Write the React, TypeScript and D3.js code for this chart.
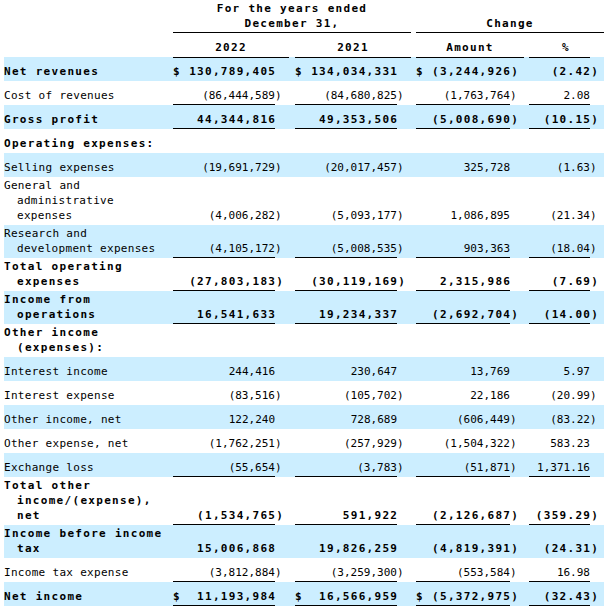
import React from 'react';
import * as d3 from 'd3';

// ---------- data ----------
const rowLabels: string[][] = [
  ['Net revenues'],
  ['Cost of revenues'],
  ['Gross profit'],
  ['Operating expenses:'],
  ['Selling expenses'],
  ['General and', 'administrative', 'expenses'],
  ['Research and', 'development expenses'],
  ['Total operating', 'expenses'],
  ['Income from', 'operations'],
  ['Other income', '(expenses):'],
  ['Interest income'],
  ['Interest expense'],
  ['Other income, net'],
  ['Other expense, net'],
  ['Exchange loss'],
  ['Total other', 'income/(expense),', 'net'],
  ['Income before income', 'tax'],
  ['Income tax expense'],
  ['Net income'],
];
const values2022: (number | null)[] = [130789405, -86444589, 44344816, null, -19691729, -4006282, -4105172, -27803183, 16541633, null, 244416, -83516, 122240, -1762251, -55654, -1534765, 15006868, -3812884, 11193984];
const values2021: (number | null)[] = [134034331, -84680825, 49353506, null, -20017457, -5093177, -5008535, -30119169, 19234337, null, 230647, -105702, 728689, -257929, -3783, 591922, 19826259, -3259300, 16566959];
const changeAmount: (number | null)[] = [-3244926, -1763764, -5008690, null, 325728, 1086895, 903363, 2315986, -2692704, null, 13769, 22186, -606449, -1504322, -51871, -2126687, -4819391, -553584, -5372975];
const changePct: (number | null)[] = [-2.42, 2.08, -10.15, null, -1.63, -21.34, -18.04, -7.69, -14.0, null, 5.97, -20.99, -83.22, 583.23, 1371.16, -359.29, -24.31, 16.98, -32.43];
const boldRows = [0, 2, 3, 7, 8, 9, 15, 16, 18];
const underlineRows = [1, 2, 6, 7, 8, 14, 15, 17, 18];
const dollarRows = [0, 18];
const headerTop = ['For the  years ended', 'December  31,'];
const headerChange = 'Change';
const columnHeads = ['2022', '2021', 'Amount', '%'];

// ---------- layout ----------
const W = 608;
const FONT = '"DejaVu Sans Mono", monospace';
const FS = 11;
const CW = FS * 0.602;
const BOLD_LS = 1.3;
const LABEL_LS = 0.3;
const BAND = '#CCEEFF';
const HEADER_H = 57;

const colLeft = [173, 295, 416, 529];
const colRight = [275, 397, 510, 590];
const headLineRight = [289, 411, 524, 590];
const headCenter = [231, 353, 470, 566];

const rowHeights = rowLabels.map((l) => (l.length === 1 ? 24 : 3 + 15 * l.length));
const rowTops = [HEADER_H, ...d3.cumsum(rowHeights).map((s) => HEADER_H + s)];

const fmtInt = d3.format(',');
const fmtPct = d3.format(',.2f');

export default function App() {
  const columns = [values2022, values2021, changeAmount, changePct];

  const bandRows = rowLabels.map((_, i) => i).filter((i) => i % 2 === 0);

  const boldStyle = (b: boolean) => ({
    fontWeight: b ? 700 : 400,
    letterSpacing: b ? BOLD_LS : 0,
  });

  return (
    <svg
      width={W}
      height={W}
      style={{ position: 'absolute', left: 0, top: 0, background: '#fff' }}
      fontFamily={FONT}
      fontSize={FS}
    >
      {/* bands */}
      {bandRows.map((i) => (
        <rect key={'b' + i} x={4} y={rowTops[i]} width={600} height={rowHeights[i]} fill={BAND} />
      ))}

      {/* header */}
      <g style={{ whiteSpace: 'pre' }} fill="#000" fontWeight={700} letterSpacing={BOLD_LS}>
        {headerTop.map((t, k) => (
          <text key={'ht' + k} x={292} y={12 + k * 14.5} textAnchor="middle">
            {t}
          </text>
        ))}
        <text x={510} y={26.5} textAnchor="middle">
          {headerChange}
        </text>
        {columnHeads.map((t, k) => (
          <text key={'ch' + k} x={headCenter[k]} y={51} textAnchor="middle">
            {t}
          </text>
        ))}
      </g>
      <line x1={173} x2={411} y1={32.5} y2={32.5} stroke="#000" />
      <line x1={416} x2={604} y1={32.5} y2={32.5} stroke="#000" />
      {colLeft.map((x, k) => (
        <line key={'hl' + k} x1={x} x2={headLineRight[k]} y1={57.5} y2={57.5} stroke="#000" />
      ))}

      {/* rows */}
      {rowLabels.map((lines, i) => {
        const bold = boldRows.includes(i);
        const bottom = rowTops[i] + rowHeights[i];
        const baseLast = bottom - 6;
        const n = lines.length;
        return (
          <g key={'r' + i} fill="#000">
            {lines.map((t, k) => (
              <text
                key={k}
                x={k === 0 ? 4 : 17}
                y={baseLast - (n - 1 - k) * 15}
                style={{ whiteSpace: 'pre', fontWeight: bold ? 700 : 400, letterSpacing: bold ? BOLD_LS : LABEL_LS }}
              >
                {t}
              </text>
            ))}
            {columns.map((col, c) => {
              const v = col[i];
              if (v === null || v === undefined) return null;
              const neg = v < 0;
              const s = c === 3 ? fmtPct(Math.abs(v)) : fmtInt(Math.abs(v));
              const str = neg ? '(' + s + ')' : s;
              const cw = CW + (bold ? BOLD_LS : 0);
              const xEnd = colRight[c] + (neg ? cw : 0) + (bold ? BOLD_LS : 0);
              return (
                <g key={'c' + c}>
                  {dollarRows.includes(i) && c < 3 && (
                    <text x={colLeft[c]} y={baseLast} style={boldStyle(bold)}>
                      $
                    </text>
                  )}
                  <text x={xEnd} y={baseLast} textAnchor="end" style={boldStyle(bold)}>
                    {str}
                  </text>
                </g>
              );
            })}
            {underlineRows.includes(i) &&
              colLeft.map((x, c) => (
                <line key={'u' + c} x1={x} x2={colRight[c]} y1={bottom - 0.5} y2={bottom - 0.5} stroke="#000" />
              ))}
          </g>
        );
      })}
    </svg>
  );
}
